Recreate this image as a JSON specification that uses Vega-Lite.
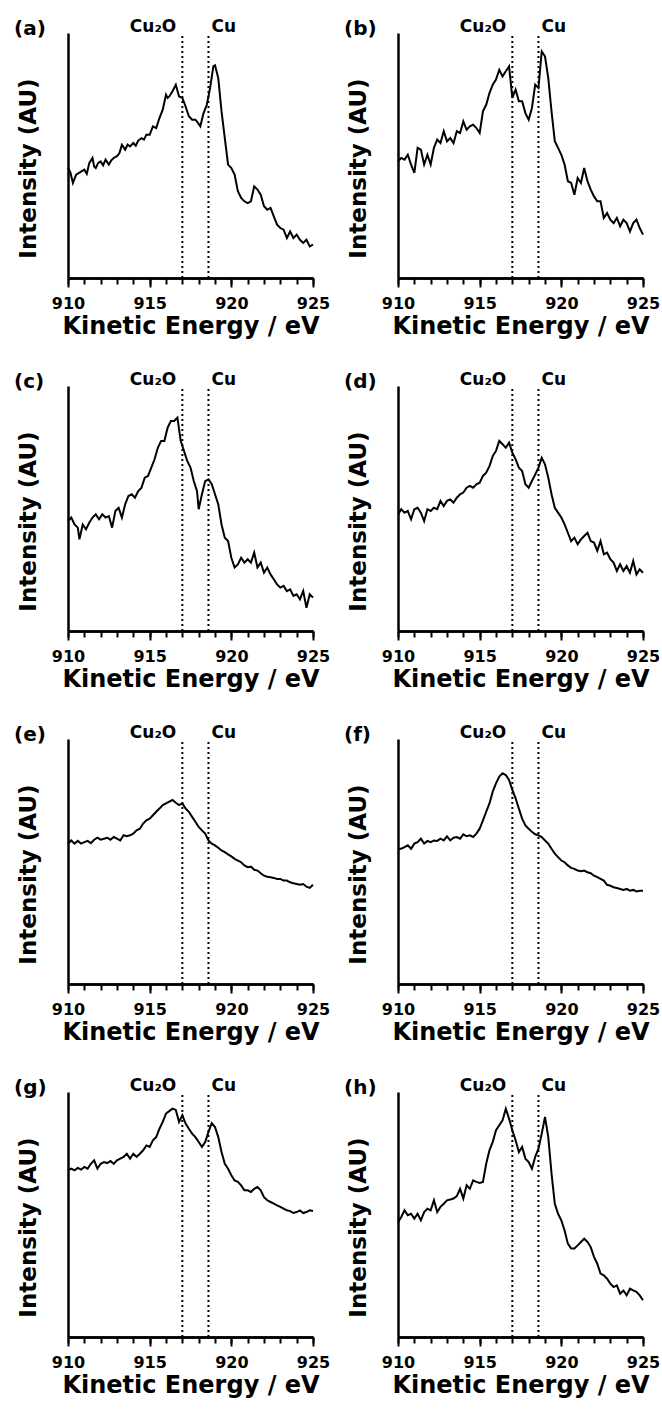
{
"$schema": "https://vega.github.io/schema/vega-lite/v6.json",
"background": "white",
"padding": {"left": 14, "top": 18, "right": 4, "bottom": 4},
"columns": 2,
"spacing": {"row": 33, "column": 14},
"config": {
  "font": "DejaVu Sans",
  "view": {"stroke": null},
  "title": {"anchor": "start", "frame": "bounds", "fontSize": 20, "fontWeight": "bold", "font": "DejaVu Sans", "baseline": "alphabetic", "offset": -21, "dx": -3, "color": "black"},
  "axis": {"grid": false, "domainColor": "black", "domainWidth": 2.5, "tickColor": "black", "tickWidth": 2, "labelColor": "black", "titleColor": "black", "labelFont": "DejaVu Sans", "titleFont": "DejaVu Sans", "labelFontWeight": "bold", "titleFontWeight": "bold"},
  "axisX": {"labelFontSize": 16, "labelPadding": 8, "titleFontSize": 24, "titlePadding": 3, "labelFlush": false},
  "axisY": {"ticks": false, "labels": false, "titleFontSize": 23, "titlePadding": 28, "titleY": 135}
},
"datasets": {
"markers": [{"energy": 917.0, "label": "Cu₂O"}, {"energy": 918.6, "label": "Cu"}],
"a": [
{"energy":910.0,"intensity":0.449},{"energy":910.15,"intensity":0.43},{"energy":910.3,"intensity":0.388},{"energy":910.5,"intensity":0.422},{"energy":910.7,"intensity":0.43},{"energy":911.0,"intensity":0.442},{"energy":911.15,"intensity":0.425},{"energy":911.3,"intensity":0.469},{"energy":911.5,"intensity":0.49},{"energy":911.6,"intensity":0.455},{"energy":911.7,"intensity":0.449},{"energy":911.85,"intensity":0.47},{"energy":912.0,"intensity":0.476},{"energy":912.15,"intensity":0.46},{"energy":912.3,"intensity":0.483},{"energy":912.5,"intensity":0.463},{"energy":912.65,"intensity":0.48},{"energy":912.8,"intensity":0.49},{"energy":913.0,"intensity":0.497},{"energy":913.15,"intensity":0.51},{"energy":913.3,"intensity":0.544},{"energy":913.5,"intensity":0.524},{"energy":913.65,"intensity":0.545},{"energy":913.8,"intensity":0.537},{"energy":914.0,"intensity":0.551},{"energy":914.15,"intensity":0.54},{"energy":914.3,"intensity":0.561},{"energy":914.5,"intensity":0.571},{"energy":914.65,"intensity":0.565},{"energy":914.8,"intensity":0.585},{"energy":915.0,"intensity":0.585},{"energy":915.2,"intensity":0.619},{"energy":915.4,"intensity":0.612},{"energy":915.6,"intensity":0.653},{"energy":915.8,"intensity":0.687},{"energy":916.0,"intensity":0.748},{"energy":916.1,"intensity":0.735},{"energy":916.2,"intensity":0.741},{"energy":916.4,"intensity":0.762},{"energy":916.6,"intensity":0.789},{"energy":916.8,"intensity":0.741},{"energy":917.0,"intensity":0.735},{"energy":917.2,"intensity":0.70},{"energy":917.4,"intensity":0.66},{"energy":917.6,"intensity":0.646},{"energy":917.8,"intensity":0.646},{"energy":918.0,"intensity":0.629},{"energy":918.1,"intensity":0.619},{"energy":918.3,"intensity":0.673},{"energy":918.5,"intensity":0.707},{"energy":918.7,"intensity":0.776},{"energy":918.9,"intensity":0.864},{"energy":919.0,"intensity":0.868},{"energy":919.2,"intensity":0.816},{"energy":919.4,"intensity":0.68},{"energy":919.6,"intensity":0.571},{"energy":919.8,"intensity":0.463},{"energy":920.0,"intensity":0.449},{"energy":920.2,"intensity":0.422},{"energy":920.4,"intensity":0.354},{"energy":920.6,"intensity":0.327},{"energy":920.8,"intensity":0.313},{"energy":921.0,"intensity":0.306},{"energy":921.2,"intensity":0.313},{"energy":921.4,"intensity":0.374},{"energy":921.6,"intensity":0.361},{"energy":921.8,"intensity":0.34},{"energy":922.0,"intensity":0.293},{"energy":922.2,"intensity":0.279},{"energy":922.4,"intensity":0.286},{"energy":922.6,"intensity":0.252},{"energy":922.8,"intensity":0.218},{"energy":923.0,"intensity":0.204},{"energy":923.2,"intensity":0.197},{"energy":923.4,"intensity":0.163},{"energy":923.6,"intensity":0.19},{"energy":923.8,"intensity":0.163},{"energy":924.0,"intensity":0.177},{"energy":924.2,"intensity":0.156},{"energy":924.4,"intensity":0.143},{"energy":924.6,"intensity":0.156},{"energy":924.8,"intensity":0.129},{"energy":925.0,"intensity":0.136}
],
"b": [
{"energy":910.0,"intensity":0.476},{"energy":910.2,"intensity":0.49},{"energy":910.4,"intensity":0.483},{"energy":910.6,"intensity":0.503},{"energy":910.8,"intensity":0.463},{"energy":911.0,"intensity":0.429},{"energy":911.2,"intensity":0.531},{"energy":911.4,"intensity":0.524},{"energy":911.6,"intensity":0.463},{"energy":911.8,"intensity":0.503},{"energy":912.0,"intensity":0.463},{"energy":912.2,"intensity":0.531},{"energy":912.4,"intensity":0.565},{"energy":912.6,"intensity":0.551},{"energy":912.8,"intensity":0.599},{"energy":913.0,"intensity":0.558},{"energy":913.2,"intensity":0.571},{"energy":913.4,"intensity":0.551},{"energy":913.6,"intensity":0.599},{"energy":913.8,"intensity":0.592},{"energy":914.0,"intensity":0.639},{"energy":914.2,"intensity":0.605},{"energy":914.4,"intensity":0.619},{"energy":914.6,"intensity":0.626},{"energy":914.8,"intensity":0.612},{"energy":915.0,"intensity":0.592},{"energy":915.2,"intensity":0.68},{"energy":915.4,"intensity":0.707},{"energy":915.6,"intensity":0.755},{"energy":915.8,"intensity":0.789},{"energy":916.0,"intensity":0.81},{"energy":916.2,"intensity":0.85},{"energy":916.4,"intensity":0.823},{"energy":916.6,"intensity":0.844},{"energy":916.8,"intensity":0.864},{"energy":917.0,"intensity":0.735},{"energy":917.2,"intensity":0.769},{"energy":917.4,"intensity":0.721},{"energy":917.6,"intensity":0.721},{"energy":917.8,"intensity":0.673},{"energy":918.0,"intensity":0.646},{"energy":918.2,"intensity":0.694},{"energy":918.4,"intensity":0.789},{"energy":918.6,"intensity":0.776},{"energy":918.8,"intensity":0.925},{"energy":919.0,"intensity":0.905},{"energy":919.2,"intensity":0.816},{"energy":919.4,"intensity":0.68},{"energy":919.6,"intensity":0.558},{"energy":919.8,"intensity":0.531},{"energy":920.0,"intensity":0.503},{"energy":920.2,"intensity":0.463},{"energy":920.4,"intensity":0.395},{"energy":920.6,"intensity":0.388},{"energy":920.8,"intensity":0.34},{"energy":921.0,"intensity":0.408},{"energy":921.2,"intensity":0.388},{"energy":921.4,"intensity":0.449},{"energy":921.6,"intensity":0.395},{"energy":921.8,"intensity":0.361},{"energy":922.0,"intensity":0.333},{"energy":922.2,"intensity":0.313},{"energy":922.4,"intensity":0.313},{"energy":922.6,"intensity":0.245},{"energy":922.8,"intensity":0.265},{"energy":923.0,"intensity":0.238},{"energy":923.2,"intensity":0.224},{"energy":923.4,"intensity":0.245},{"energy":923.6,"intensity":0.211},{"energy":923.8,"intensity":0.238},{"energy":924.0,"intensity":0.224},{"energy":924.2,"intensity":0.19},{"energy":924.4,"intensity":0.224},{"energy":924.6,"intensity":0.238},{"energy":924.8,"intensity":0.204},{"energy":925.0,"intensity":0.177}
],
"c": [
{"energy":910.0,"intensity":0.449},{"energy":910.2,"intensity":0.463},{"energy":910.4,"intensity":0.435},{"energy":910.6,"intensity":0.422},{"energy":910.7,"intensity":0.374},{"energy":910.9,"intensity":0.435},{"energy":911.1,"intensity":0.415},{"energy":911.3,"intensity":0.442},{"energy":911.5,"intensity":0.463},{"energy":911.7,"intensity":0.476},{"energy":911.9,"intensity":0.456},{"energy":912.1,"intensity":0.476},{"energy":912.3,"intensity":0.463},{"energy":912.5,"intensity":0.469},{"energy":912.7,"intensity":0.422},{"energy":912.9,"intensity":0.49},{"energy":913.1,"intensity":0.503},{"energy":913.3,"intensity":0.463},{"energy":913.5,"intensity":0.517},{"energy":913.7,"intensity":0.551},{"energy":913.9,"intensity":0.558},{"energy":914.1,"intensity":0.544},{"energy":914.3,"intensity":0.571},{"energy":914.5,"intensity":0.585},{"energy":914.7,"intensity":0.626},{"energy":914.9,"intensity":0.633},{"energy":915.1,"intensity":0.667},{"energy":915.3,"intensity":0.701},{"energy":915.5,"intensity":0.748},{"energy":915.7,"intensity":0.776},{"energy":915.9,"intensity":0.776},{"energy":916.1,"intensity":0.83},{"energy":916.3,"intensity":0.857},{"energy":916.5,"intensity":0.857},{"energy":916.7,"intensity":0.871},{"energy":916.9,"intensity":0.776},{"energy":917.1,"intensity":0.735},{"energy":917.3,"intensity":0.694},{"energy":917.5,"intensity":0.667},{"energy":917.7,"intensity":0.612},{"energy":917.9,"intensity":0.571},{"energy":918.0,"intensity":0.497},{"energy":918.2,"intensity":0.558},{"energy":918.4,"intensity":0.612},{"energy":918.6,"intensity":0.619},{"energy":918.8,"intensity":0.599},{"energy":919.0,"intensity":0.558},{"energy":919.2,"intensity":0.517},{"energy":919.4,"intensity":0.435},{"energy":919.6,"intensity":0.381},{"energy":919.8,"intensity":0.367},{"energy":920.0,"intensity":0.299},{"energy":920.2,"intensity":0.259},{"energy":920.4,"intensity":0.272},{"energy":920.6,"intensity":0.299},{"energy":920.8,"intensity":0.279},{"energy":921.0,"intensity":0.293},{"energy":921.2,"intensity":0.279},{"energy":921.4,"intensity":0.32},{"energy":921.6,"intensity":0.259},{"energy":921.8,"intensity":0.279},{"energy":922.0,"intensity":0.238},{"energy":922.2,"intensity":0.259},{"energy":922.4,"intensity":0.231},{"energy":922.6,"intensity":0.211},{"energy":922.8,"intensity":0.19},{"energy":923.0,"intensity":0.177},{"energy":923.2,"intensity":0.184},{"energy":923.4,"intensity":0.163},{"energy":923.6,"intensity":0.17},{"energy":923.8,"intensity":0.143},{"energy":924.0,"intensity":0.15},{"energy":924.2,"intensity":0.129},{"energy":924.4,"intensity":0.163},{"energy":924.6,"intensity":0.095},{"energy":924.8,"intensity":0.15},{"energy":925.0,"intensity":0.136}
],
"d": [
{"energy":910.0,"intensity":0.476},{"energy":910.2,"intensity":0.497},{"energy":910.4,"intensity":0.483},{"energy":910.6,"intensity":0.49},{"energy":910.8,"intensity":0.456},{"energy":911.0,"intensity":0.497},{"energy":911.2,"intensity":0.503},{"energy":911.4,"intensity":0.483},{"energy":911.6,"intensity":0.449},{"energy":911.8,"intensity":0.497},{"energy":912.0,"intensity":0.49},{"energy":912.2,"intensity":0.503},{"energy":912.4,"intensity":0.497},{"energy":912.6,"intensity":0.531},{"energy":912.8,"intensity":0.51},{"energy":913.0,"intensity":0.531},{"energy":913.2,"intensity":0.537},{"energy":913.4,"intensity":0.524},{"energy":913.6,"intensity":0.544},{"energy":913.8,"intensity":0.558},{"energy":914.0,"intensity":0.565},{"energy":914.2,"intensity":0.585},{"energy":914.4,"intensity":0.592},{"energy":914.6,"intensity":0.585},{"energy":914.8,"intensity":0.599},{"energy":915.0,"intensity":0.605},{"energy":915.2,"intensity":0.633},{"energy":915.4,"intensity":0.646},{"energy":915.6,"intensity":0.673},{"energy":915.8,"intensity":0.714},{"energy":916.0,"intensity":0.735},{"energy":916.2,"intensity":0.776},{"energy":916.4,"intensity":0.762},{"energy":916.6,"intensity":0.748},{"energy":916.8,"intensity":0.769},{"energy":917.0,"intensity":0.728},{"energy":917.2,"intensity":0.701},{"energy":917.4,"intensity":0.667},{"energy":917.6,"intensity":0.653},{"energy":917.8,"intensity":0.599},{"energy":918.0,"intensity":0.585},{"energy":918.2,"intensity":0.612},{"energy":918.4,"intensity":0.639},{"energy":918.6,"intensity":0.667},{"energy":918.8,"intensity":0.707},{"energy":919.0,"intensity":0.68},{"energy":919.2,"intensity":0.626},{"energy":919.4,"intensity":0.558},{"energy":919.6,"intensity":0.503},{"energy":919.8,"intensity":0.483},{"energy":920.0,"intensity":0.463},{"energy":920.2,"intensity":0.435},{"energy":920.4,"intensity":0.401},{"energy":920.6,"intensity":0.367},{"energy":920.8,"intensity":0.381},{"energy":921.0,"intensity":0.354},{"energy":921.2,"intensity":0.374},{"energy":921.4,"intensity":0.388},{"energy":921.6,"intensity":0.401},{"energy":921.8,"intensity":0.367},{"energy":922.0,"intensity":0.361},{"energy":922.2,"intensity":0.327},{"energy":922.4,"intensity":0.367},{"energy":922.6,"intensity":0.313},{"energy":922.8,"intensity":0.32},{"energy":923.0,"intensity":0.293},{"energy":923.2,"intensity":0.279},{"energy":923.4,"intensity":0.245},{"energy":923.6,"intensity":0.272},{"energy":923.8,"intensity":0.245},{"energy":924.0,"intensity":0.265},{"energy":924.2,"intensity":0.238},{"energy":924.4,"intensity":0.286},{"energy":924.6,"intensity":0.231},{"energy":924.8,"intensity":0.252},{"energy":925.0,"intensity":0.238}
],
"e": [
{"energy":910.0,"intensity":0.573},{"energy":910.2,"intensity":0.586},{"energy":910.4,"intensity":0.573},{"energy":910.6,"intensity":0.584},{"energy":910.8,"intensity":0.573},{"energy":911.0,"intensity":0.579},{"energy":911.2,"intensity":0.584},{"energy":911.4,"intensity":0.575},{"energy":911.6,"intensity":0.589},{"energy":911.8,"intensity":0.597},{"energy":912.0,"intensity":0.589},{"energy":912.2,"intensity":0.593},{"energy":912.4,"intensity":0.597},{"energy":912.6,"intensity":0.589},{"energy":912.8,"intensity":0.6},{"energy":913.0,"intensity":0.593},{"energy":913.2,"intensity":0.586},{"energy":913.4,"intensity":0.607},{"energy":913.6,"intensity":0.603},{"energy":913.8,"intensity":0.607},{"energy":914.0,"intensity":0.614},{"energy":914.2,"intensity":0.627},{"energy":914.4,"intensity":0.634},{"energy":914.6,"intensity":0.655},{"energy":914.8,"intensity":0.668},{"energy":915.0,"intensity":0.675},{"energy":915.2,"intensity":0.689},{"energy":915.4,"intensity":0.703},{"energy":915.6,"intensity":0.716},{"energy":915.8,"intensity":0.73},{"energy":916.0,"intensity":0.737},{"energy":916.2,"intensity":0.744},{"energy":916.4,"intensity":0.751},{"energy":916.6,"intensity":0.74},{"energy":916.8,"intensity":0.73},{"energy":917.0,"intensity":0.737},{"energy":917.2,"intensity":0.716},{"energy":917.4,"intensity":0.703},{"energy":917.6,"intensity":0.682},{"energy":917.8,"intensity":0.662},{"energy":918.0,"intensity":0.641},{"energy":918.2,"intensity":0.627},{"energy":918.4,"intensity":0.614},{"energy":918.6,"intensity":0.586},{"energy":918.8,"intensity":0.573},{"energy":919.0,"intensity":0.566},{"energy":919.2,"intensity":0.556},{"energy":919.4,"intensity":0.545},{"energy":919.6,"intensity":0.538},{"energy":919.8,"intensity":0.529},{"energy":920.0,"intensity":0.521},{"energy":920.2,"intensity":0.511},{"energy":920.4,"intensity":0.504},{"energy":920.6,"intensity":0.497},{"energy":920.8,"intensity":0.484},{"energy":921.0,"intensity":0.477},{"energy":921.2,"intensity":0.479},{"energy":921.4,"intensity":0.466},{"energy":921.6,"intensity":0.463},{"energy":921.8,"intensity":0.452},{"energy":922.0,"intensity":0.442},{"energy":922.2,"intensity":0.438},{"energy":922.4,"intensity":0.436},{"energy":922.6,"intensity":0.433},{"energy":922.8,"intensity":0.429},{"energy":923.0,"intensity":0.429},{"energy":923.2,"intensity":0.422},{"energy":923.4,"intensity":0.422},{"energy":923.6,"intensity":0.415},{"energy":923.8,"intensity":0.411},{"energy":924.0,"intensity":0.408},{"energy":924.2,"intensity":0.405},{"energy":924.4,"intensity":0.408},{"energy":924.6,"intensity":0.397},{"energy":924.8,"intensity":0.392},{"energy":925.0,"intensity":0.405}
],
"f": [
{"energy":910.0,"intensity":0.552},{"energy":910.2,"intensity":0.552},{"energy":910.4,"intensity":0.559},{"energy":910.6,"intensity":0.566},{"energy":910.8,"intensity":0.552},{"energy":911.0,"intensity":0.573},{"energy":911.2,"intensity":0.579},{"energy":911.4,"intensity":0.593},{"energy":911.6,"intensity":0.573},{"energy":911.8,"intensity":0.584},{"energy":912.0,"intensity":0.579},{"energy":912.2,"intensity":0.586},{"energy":912.4,"intensity":0.584},{"energy":912.6,"intensity":0.593},{"energy":912.8,"intensity":0.586},{"energy":913.0,"intensity":0.603},{"energy":913.2,"intensity":0.586},{"energy":913.4,"intensity":0.597},{"energy":913.6,"intensity":0.6},{"energy":913.8,"intensity":0.593},{"energy":914.0,"intensity":0.611},{"energy":914.2,"intensity":0.603},{"energy":914.4,"intensity":0.607},{"energy":914.6,"intensity":0.6},{"energy":914.8,"intensity":0.614},{"energy":915.0,"intensity":0.634},{"energy":915.2,"intensity":0.668},{"energy":915.4,"intensity":0.703},{"energy":915.6,"intensity":0.737},{"energy":915.8,"intensity":0.785},{"energy":916.0,"intensity":0.819},{"energy":916.2,"intensity":0.847},{"energy":916.4,"intensity":0.86},{"energy":916.6,"intensity":0.853},{"energy":916.8,"intensity":0.833},{"energy":917.0,"intensity":0.792},{"energy":917.2,"intensity":0.758},{"energy":917.4,"intensity":0.716},{"energy":917.6,"intensity":0.675},{"energy":917.8,"intensity":0.647},{"energy":918.0,"intensity":0.634},{"energy":918.2,"intensity":0.621},{"energy":918.4,"intensity":0.611},{"energy":918.6,"intensity":0.607},{"energy":918.8,"intensity":0.6},{"energy":919.0,"intensity":0.586},{"energy":919.2,"intensity":0.573},{"energy":919.4,"intensity":0.552},{"energy":919.6,"intensity":0.532},{"energy":919.8,"intensity":0.518},{"energy":920.0,"intensity":0.504},{"energy":920.2,"intensity":0.497},{"energy":920.4,"intensity":0.484},{"energy":920.6,"intensity":0.474},{"energy":920.8,"intensity":0.47},{"energy":921.0,"intensity":0.463},{"energy":921.2,"intensity":0.46},{"energy":921.4,"intensity":0.463},{"energy":921.6,"intensity":0.456},{"energy":921.8,"intensity":0.452},{"energy":922.0,"intensity":0.442},{"energy":922.2,"intensity":0.436},{"energy":922.4,"intensity":0.429},{"energy":922.6,"intensity":0.422},{"energy":922.8,"intensity":0.405},{"energy":923.0,"intensity":0.401},{"energy":923.2,"intensity":0.395},{"energy":923.4,"intensity":0.392},{"energy":923.6,"intensity":0.388},{"energy":923.8,"intensity":0.384},{"energy":924.0,"intensity":0.388},{"energy":924.2,"intensity":0.381},{"energy":924.4,"intensity":0.384},{"energy":924.6,"intensity":0.378},{"energy":924.8,"intensity":0.381},{"energy":925.0,"intensity":0.381}
],
"g": [
{"energy":910.0,"intensity":0.68},{"energy":910.2,"intensity":0.687},{"energy":910.4,"intensity":0.68},{"energy":910.6,"intensity":0.69},{"energy":910.8,"intensity":0.683},{"energy":911.0,"intensity":0.694},{"energy":911.2,"intensity":0.687},{"energy":911.4,"intensity":0.707},{"energy":911.6,"intensity":0.721},{"energy":911.8,"intensity":0.687},{"energy":912.0,"intensity":0.707},{"energy":912.2,"intensity":0.714},{"energy":912.4,"intensity":0.71},{"energy":912.6,"intensity":0.718},{"energy":912.8,"intensity":0.707},{"energy":913.0,"intensity":0.721},{"energy":913.2,"intensity":0.728},{"energy":913.4,"intensity":0.735},{"energy":913.6,"intensity":0.748},{"energy":913.8,"intensity":0.728},{"energy":914.0,"intensity":0.748},{"energy":914.2,"intensity":0.735},{"energy":914.4,"intensity":0.748},{"energy":914.6,"intensity":0.762},{"energy":914.8,"intensity":0.782},{"energy":915.0,"intensity":0.776},{"energy":915.2,"intensity":0.803},{"energy":915.4,"intensity":0.816},{"energy":915.6,"intensity":0.85},{"energy":915.8,"intensity":0.878},{"energy":916.0,"intensity":0.912},{"energy":916.2,"intensity":0.922},{"energy":916.4,"intensity":0.932},{"energy":916.6,"intensity":0.927},{"energy":916.8,"intensity":0.878},{"energy":917.0,"intensity":0.905},{"energy":917.2,"intensity":0.871},{"energy":917.4,"intensity":0.85},{"energy":917.6,"intensity":0.83},{"energy":917.8,"intensity":0.816},{"energy":918.0,"intensity":0.796},{"energy":918.2,"intensity":0.776},{"energy":918.4,"intensity":0.796},{"energy":918.6,"intensity":0.837},{"energy":918.8,"intensity":0.873},{"energy":919.0,"intensity":0.857},{"energy":919.2,"intensity":0.816},{"energy":919.4,"intensity":0.755},{"energy":919.6,"intensity":0.707},{"energy":919.8,"intensity":0.687},{"energy":920.0,"intensity":0.66},{"energy":920.2,"intensity":0.639},{"energy":920.4,"intensity":0.633},{"energy":920.6,"intensity":0.619},{"energy":920.8,"intensity":0.599},{"energy":921.0,"intensity":0.599},{"energy":921.2,"intensity":0.592},{"energy":921.4,"intensity":0.605},{"energy":921.6,"intensity":0.612},{"energy":921.8,"intensity":0.599},{"energy":922.0,"intensity":0.571},{"energy":922.2,"intensity":0.558},{"energy":922.4,"intensity":0.551},{"energy":922.6,"intensity":0.544},{"energy":922.8,"intensity":0.537},{"energy":923.0,"intensity":0.531},{"energy":923.2,"intensity":0.524},{"energy":923.4,"intensity":0.517},{"energy":923.6,"intensity":0.514},{"energy":923.8,"intensity":0.506},{"energy":924.0,"intensity":0.51},{"energy":924.2,"intensity":0.517},{"energy":924.4,"intensity":0.506},{"energy":924.6,"intensity":0.51},{"energy":924.8,"intensity":0.517},{"energy":925.0,"intensity":0.514}
],
"h": [
{"energy":910.0,"intensity":0.469},{"energy":910.2,"intensity":0.49},{"energy":910.4,"intensity":0.517},{"energy":910.6,"intensity":0.497},{"energy":910.8,"intensity":0.503},{"energy":911.0,"intensity":0.483},{"energy":911.2,"intensity":0.503},{"energy":911.4,"intensity":0.476},{"energy":911.6,"intensity":0.51},{"energy":911.8,"intensity":0.524},{"energy":912.0,"intensity":0.517},{"energy":912.2,"intensity":0.558},{"energy":912.4,"intensity":0.51},{"energy":912.6,"intensity":0.531},{"energy":912.8,"intensity":0.544},{"energy":913.0,"intensity":0.558},{"energy":913.2,"intensity":0.561},{"energy":913.4,"intensity":0.565},{"energy":913.6,"intensity":0.575},{"energy":913.8,"intensity":0.605},{"energy":914.0,"intensity":0.565},{"energy":914.2,"intensity":0.619},{"energy":914.4,"intensity":0.605},{"energy":914.6,"intensity":0.639},{"energy":914.8,"intensity":0.633},{"energy":915.0,"intensity":0.629},{"energy":915.2,"intensity":0.633},{"energy":915.4,"intensity":0.707},{"energy":915.6,"intensity":0.762},{"energy":915.8,"intensity":0.796},{"energy":916.0,"intensity":0.844},{"energy":916.2,"intensity":0.864},{"energy":916.4,"intensity":0.884},{"energy":916.6,"intensity":0.932},{"energy":916.8,"intensity":0.891},{"energy":917.0,"intensity":0.844},{"energy":917.2,"intensity":0.803},{"energy":917.4,"intensity":0.755},{"energy":917.6,"intensity":0.776},{"energy":917.8,"intensity":0.728},{"energy":918.0,"intensity":0.714},{"energy":918.2,"intensity":0.687},{"energy":918.4,"intensity":0.735},{"energy":918.6,"intensity":0.769},{"energy":918.8,"intensity":0.83},{"energy":919.0,"intensity":0.898},{"energy":919.2,"intensity":0.816},{"energy":919.4,"intensity":0.667},{"energy":919.6,"intensity":0.544},{"energy":919.8,"intensity":0.503},{"energy":920.0,"intensity":0.476},{"energy":920.2,"intensity":0.435},{"energy":920.4,"intensity":0.381},{"energy":920.6,"intensity":0.361},{"energy":920.8,"intensity":0.361},{"energy":921.0,"intensity":0.374},{"energy":921.2,"intensity":0.388},{"energy":921.4,"intensity":0.401},{"energy":921.6,"intensity":0.388},{"energy":921.8,"intensity":0.367},{"energy":922.0,"intensity":0.327},{"energy":922.2,"intensity":0.299},{"energy":922.4,"intensity":0.259},{"energy":922.6,"intensity":0.252},{"energy":922.8,"intensity":0.238},{"energy":923.0,"intensity":0.218},{"energy":923.2,"intensity":0.204},{"energy":923.4,"intensity":0.211},{"energy":923.6,"intensity":0.177},{"energy":923.8,"intensity":0.19},{"energy":924.0,"intensity":0.17},{"energy":924.2,"intensity":0.197},{"energy":924.4,"intensity":0.19},{"energy":924.6,"intensity":0.184},{"energy":924.8,"intensity":0.17},{"energy":925.0,"intensity":0.15}
]
},
"concat": [
{"title": {"text": "(a)"}, "width": 245, "height": 245, "resolve": {"axis": {"x": "independent"}}, "layer": [
 {"data": {"name": "a"}, "mark": {"type": "line", "color": "black", "strokeWidth": 2}, "encoding": {"x": {"field": "energy", "type": "quantitative", "scale": {"domain": [910, 925], "nice": false}, "axis": {"orient": "bottom", "values": [910,911,912,913,914,915,916,917,918,919,920,921,922,923,924,925], "labels": false, "tickSize": 6, "title": null}}, "y": {"field": "intensity", "type": "quantitative", "scale": {"domain": [0, 1], "nice": false}, "axis": {"title": "Intensity (AU)"}}}},
 {"data": {"name": "markers"}, "mark": {"type": "rule", "color": "black", "strokeWidth": 2, "strokeDash": [2, 3]}, "encoding": {"x": {"field": "energy", "type": "quantitative", "scale": {"domain": [910, 925], "nice": false}, "axis": {"orient": "bottom", "values": [910, 915, 920, 925], "tickSize": 9, "format": "d", "title": "Kinetic Energy / eV"}}, "y": {"datum": 0, "scale": {"domain": [0, 1]}, "axis": {"title": "Intensity (AU)"}}, "y2": {"datum": 1}}},
 {"data": {"name": "markers"}, "transform": [{"filter": "datum.label == 'Cu₂O'"}], "mark": {"type": "text", "align": "right", "baseline": "alphabetic", "dx": -6, "dy": -1, "fontSize": 17, "fontWeight": "bold", "color": "black"}, "encoding": {"x": {"field": "energy", "type": "quantitative", "axis": null}, "y": {"datum": 1, "axis": {"title": "Intensity (AU)"}}, "text": {"field": "label"}}},
 {"data": {"name": "markers"}, "transform": [{"filter": "datum.label == 'Cu'"}], "mark": {"type": "text", "align": "left", "baseline": "alphabetic", "dx": 3, "dy": -1, "fontSize": 17, "fontWeight": "bold", "color": "black"}, "encoding": {"x": {"field": "energy", "type": "quantitative", "axis": null}, "y": {"datum": 1, "axis": {"title": "Intensity (AU)"}}, "text": {"field": "label"}}}
]},
{"title": {"text": "(b)"}, "width": 245, "height": 245, "resolve": {"axis": {"x": "independent"}}, "layer": [
 {"data": {"name": "b"}, "mark": {"type": "line", "color": "black", "strokeWidth": 2}, "encoding": {"x": {"field": "energy", "type": "quantitative", "scale": {"domain": [910, 925], "nice": false}, "axis": {"orient": "bottom", "values": [910,911,912,913,914,915,916,917,918,919,920,921,922,923,924,925], "labels": false, "tickSize": 6, "title": null}}, "y": {"field": "intensity", "type": "quantitative", "scale": {"domain": [0, 1], "nice": false}, "axis": {"title": "Intensity (AU)"}}}},
 {"data": {"name": "markers"}, "mark": {"type": "rule", "color": "black", "strokeWidth": 2, "strokeDash": [2, 3]}, "encoding": {"x": {"field": "energy", "type": "quantitative", "scale": {"domain": [910, 925], "nice": false}, "axis": {"orient": "bottom", "values": [910, 915, 920, 925], "tickSize": 9, "format": "d", "title": "Kinetic Energy / eV"}}, "y": {"datum": 0, "scale": {"domain": [0, 1]}, "axis": {"title": "Intensity (AU)"}}, "y2": {"datum": 1}}},
 {"data": {"name": "markers"}, "transform": [{"filter": "datum.label == 'Cu₂O'"}], "mark": {"type": "text", "align": "right", "baseline": "alphabetic", "dx": -6, "dy": -1, "fontSize": 17, "fontWeight": "bold", "color": "black"}, "encoding": {"x": {"field": "energy", "type": "quantitative", "axis": null}, "y": {"datum": 1, "axis": {"title": "Intensity (AU)"}}, "text": {"field": "label"}}},
 {"data": {"name": "markers"}, "transform": [{"filter": "datum.label == 'Cu'"}], "mark": {"type": "text", "align": "left", "baseline": "alphabetic", "dx": 3, "dy": -1, "fontSize": 17, "fontWeight": "bold", "color": "black"}, "encoding": {"x": {"field": "energy", "type": "quantitative", "axis": null}, "y": {"datum": 1, "axis": {"title": "Intensity (AU)"}}, "text": {"field": "label"}}}
]},
{"title": {"text": "(c)"}, "width": 245, "height": 245, "resolve": {"axis": {"x": "independent"}}, "layer": [
 {"data": {"name": "c"}, "mark": {"type": "line", "color": "black", "strokeWidth": 2}, "encoding": {"x": {"field": "energy", "type": "quantitative", "scale": {"domain": [910, 925], "nice": false}, "axis": {"orient": "bottom", "values": [910,911,912,913,914,915,916,917,918,919,920,921,922,923,924,925], "labels": false, "tickSize": 6, "title": null}}, "y": {"field": "intensity", "type": "quantitative", "scale": {"domain": [0, 1], "nice": false}, "axis": {"title": "Intensity (AU)"}}}},
 {"data": {"name": "markers"}, "mark": {"type": "rule", "color": "black", "strokeWidth": 2, "strokeDash": [2, 3]}, "encoding": {"x": {"field": "energy", "type": "quantitative", "scale": {"domain": [910, 925], "nice": false}, "axis": {"orient": "bottom", "values": [910, 915, 920, 925], "tickSize": 9, "format": "d", "title": "Kinetic Energy / eV"}}, "y": {"datum": 0, "scale": {"domain": [0, 1]}, "axis": {"title": "Intensity (AU)"}}, "y2": {"datum": 1}}},
 {"data": {"name": "markers"}, "transform": [{"filter": "datum.label == 'Cu₂O'"}], "mark": {"type": "text", "align": "right", "baseline": "alphabetic", "dx": -6, "dy": -1, "fontSize": 17, "fontWeight": "bold", "color": "black"}, "encoding": {"x": {"field": "energy", "type": "quantitative", "axis": null}, "y": {"datum": 1, "axis": {"title": "Intensity (AU)"}}, "text": {"field": "label"}}},
 {"data": {"name": "markers"}, "transform": [{"filter": "datum.label == 'Cu'"}], "mark": {"type": "text", "align": "left", "baseline": "alphabetic", "dx": 3, "dy": -1, "fontSize": 17, "fontWeight": "bold", "color": "black"}, "encoding": {"x": {"field": "energy", "type": "quantitative", "axis": null}, "y": {"datum": 1, "axis": {"title": "Intensity (AU)"}}, "text": {"field": "label"}}}
]},
{"title": {"text": "(d)"}, "width": 245, "height": 245, "resolve": {"axis": {"x": "independent"}}, "layer": [
 {"data": {"name": "d"}, "mark": {"type": "line", "color": "black", "strokeWidth": 2}, "encoding": {"x": {"field": "energy", "type": "quantitative", "scale": {"domain": [910, 925], "nice": false}, "axis": {"orient": "bottom", "values": [910,911,912,913,914,915,916,917,918,919,920,921,922,923,924,925], "labels": false, "tickSize": 6, "title": null}}, "y": {"field": "intensity", "type": "quantitative", "scale": {"domain": [0, 1], "nice": false}, "axis": {"title": "Intensity (AU)"}}}},
 {"data": {"name": "markers"}, "mark": {"type": "rule", "color": "black", "strokeWidth": 2, "strokeDash": [2, 3]}, "encoding": {"x": {"field": "energy", "type": "quantitative", "scale": {"domain": [910, 925], "nice": false}, "axis": {"orient": "bottom", "values": [910, 915, 920, 925], "tickSize": 9, "format": "d", "title": "Kinetic Energy / eV"}}, "y": {"datum": 0, "scale": {"domain": [0, 1]}, "axis": {"title": "Intensity (AU)"}}, "y2": {"datum": 1}}},
 {"data": {"name": "markers"}, "transform": [{"filter": "datum.label == 'Cu₂O'"}], "mark": {"type": "text", "align": "right", "baseline": "alphabetic", "dx": -6, "dy": -1, "fontSize": 17, "fontWeight": "bold", "color": "black"}, "encoding": {"x": {"field": "energy", "type": "quantitative", "axis": null}, "y": {"datum": 1, "axis": {"title": "Intensity (AU)"}}, "text": {"field": "label"}}},
 {"data": {"name": "markers"}, "transform": [{"filter": "datum.label == 'Cu'"}], "mark": {"type": "text", "align": "left", "baseline": "alphabetic", "dx": 3, "dy": -1, "fontSize": 17, "fontWeight": "bold", "color": "black"}, "encoding": {"x": {"field": "energy", "type": "quantitative", "axis": null}, "y": {"datum": 1, "axis": {"title": "Intensity (AU)"}}, "text": {"field": "label"}}}
]},
{"title": {"text": "(e)"}, "width": 245, "height": 245, "resolve": {"axis": {"x": "independent"}}, "layer": [
 {"data": {"name": "e"}, "mark": {"type": "line", "color": "black", "strokeWidth": 2}, "encoding": {"x": {"field": "energy", "type": "quantitative", "scale": {"domain": [910, 925], "nice": false}, "axis": {"orient": "bottom", "values": [910,911,912,913,914,915,916,917,918,919,920,921,922,923,924,925], "labels": false, "tickSize": 6, "title": null}}, "y": {"field": "intensity", "type": "quantitative", "scale": {"domain": [0, 1], "nice": false}, "axis": {"title": "Intensity (AU)"}}}},
 {"data": {"name": "markers"}, "mark": {"type": "rule", "color": "black", "strokeWidth": 2, "strokeDash": [2, 3]}, "encoding": {"x": {"field": "energy", "type": "quantitative", "scale": {"domain": [910, 925], "nice": false}, "axis": {"orient": "bottom", "values": [910, 915, 920, 925], "tickSize": 9, "format": "d", "title": "Kinetic Energy / eV"}}, "y": {"datum": 0, "scale": {"domain": [0, 1]}, "axis": {"title": "Intensity (AU)"}}, "y2": {"datum": 1}}},
 {"data": {"name": "markers"}, "transform": [{"filter": "datum.label == 'Cu₂O'"}], "mark": {"type": "text", "align": "right", "baseline": "alphabetic", "dx": -6, "dy": -1, "fontSize": 17, "fontWeight": "bold", "color": "black"}, "encoding": {"x": {"field": "energy", "type": "quantitative", "axis": null}, "y": {"datum": 1, "axis": {"title": "Intensity (AU)"}}, "text": {"field": "label"}}},
 {"data": {"name": "markers"}, "transform": [{"filter": "datum.label == 'Cu'"}], "mark": {"type": "text", "align": "left", "baseline": "alphabetic", "dx": 3, "dy": -1, "fontSize": 17, "fontWeight": "bold", "color": "black"}, "encoding": {"x": {"field": "energy", "type": "quantitative", "axis": null}, "y": {"datum": 1, "axis": {"title": "Intensity (AU)"}}, "text": {"field": "label"}}}
]},
{"title": {"text": "(f)"}, "width": 245, "height": 245, "resolve": {"axis": {"x": "independent"}}, "layer": [
 {"data": {"name": "f"}, "mark": {"type": "line", "color": "black", "strokeWidth": 2}, "encoding": {"x": {"field": "energy", "type": "quantitative", "scale": {"domain": [910, 925], "nice": false}, "axis": {"orient": "bottom", "values": [910,911,912,913,914,915,916,917,918,919,920,921,922,923,924,925], "labels": false, "tickSize": 6, "title": null}}, "y": {"field": "intensity", "type": "quantitative", "scale": {"domain": [0, 1], "nice": false}, "axis": {"title": "Intensity (AU)"}}}},
 {"data": {"name": "markers"}, "mark": {"type": "rule", "color": "black", "strokeWidth": 2, "strokeDash": [2, 3]}, "encoding": {"x": {"field": "energy", "type": "quantitative", "scale": {"domain": [910, 925], "nice": false}, "axis": {"orient": "bottom", "values": [910, 915, 920, 925], "tickSize": 9, "format": "d", "title": "Kinetic Energy / eV"}}, "y": {"datum": 0, "scale": {"domain": [0, 1]}, "axis": {"title": "Intensity (AU)"}}, "y2": {"datum": 1}}},
 {"data": {"name": "markers"}, "transform": [{"filter": "datum.label == 'Cu₂O'"}], "mark": {"type": "text", "align": "right", "baseline": "alphabetic", "dx": -6, "dy": -1, "fontSize": 17, "fontWeight": "bold", "color": "black"}, "encoding": {"x": {"field": "energy", "type": "quantitative", "axis": null}, "y": {"datum": 1, "axis": {"title": "Intensity (AU)"}}, "text": {"field": "label"}}},
 {"data": {"name": "markers"}, "transform": [{"filter": "datum.label == 'Cu'"}], "mark": {"type": "text", "align": "left", "baseline": "alphabetic", "dx": 3, "dy": -1, "fontSize": 17, "fontWeight": "bold", "color": "black"}, "encoding": {"x": {"field": "energy", "type": "quantitative", "axis": null}, "y": {"datum": 1, "axis": {"title": "Intensity (AU)"}}, "text": {"field": "label"}}}
]},
{"title": {"text": "(g)"}, "width": 245, "height": 245, "resolve": {"axis": {"x": "independent"}}, "layer": [
 {"data": {"name": "g"}, "mark": {"type": "line", "color": "black", "strokeWidth": 2}, "encoding": {"x": {"field": "energy", "type": "quantitative", "scale": {"domain": [910, 925], "nice": false}, "axis": {"orient": "bottom", "values": [910,911,912,913,914,915,916,917,918,919,920,921,922,923,924,925], "labels": false, "tickSize": 6, "title": null}}, "y": {"field": "intensity", "type": "quantitative", "scale": {"domain": [0, 1], "nice": false}, "axis": {"title": "Intensity (AU)"}}}},
 {"data": {"name": "markers"}, "mark": {"type": "rule", "color": "black", "strokeWidth": 2, "strokeDash": [2, 3]}, "encoding": {"x": {"field": "energy", "type": "quantitative", "scale": {"domain": [910, 925], "nice": false}, "axis": {"orient": "bottom", "values": [910, 915, 920, 925], "tickSize": 9, "format": "d", "title": "Kinetic Energy / eV"}}, "y": {"datum": 0, "scale": {"domain": [0, 1]}, "axis": {"title": "Intensity (AU)"}}, "y2": {"datum": 1}}},
 {"data": {"name": "markers"}, "transform": [{"filter": "datum.label == 'Cu₂O'"}], "mark": {"type": "text", "align": "right", "baseline": "alphabetic", "dx": -6, "dy": -1, "fontSize": 17, "fontWeight": "bold", "color": "black"}, "encoding": {"x": {"field": "energy", "type": "quantitative", "axis": null}, "y": {"datum": 1, "axis": {"title": "Intensity (AU)"}}, "text": {"field": "label"}}},
 {"data": {"name": "markers"}, "transform": [{"filter": "datum.label == 'Cu'"}], "mark": {"type": "text", "align": "left", "baseline": "alphabetic", "dx": 3, "dy": -1, "fontSize": 17, "fontWeight": "bold", "color": "black"}, "encoding": {"x": {"field": "energy", "type": "quantitative", "axis": null}, "y": {"datum": 1, "axis": {"title": "Intensity (AU)"}}, "text": {"field": "label"}}}
]},
{"title": {"text": "(h)"}, "width": 245, "height": 245, "resolve": {"axis": {"x": "independent"}}, "layer": [
 {"data": {"name": "h"}, "mark": {"type": "line", "color": "black", "strokeWidth": 2}, "encoding": {"x": {"field": "energy", "type": "quantitative", "scale": {"domain": [910, 925], "nice": false}, "axis": {"orient": "bottom", "values": [910,911,912,913,914,915,916,917,918,919,920,921,922,923,924,925], "labels": false, "tickSize": 6, "title": null}}, "y": {"field": "intensity", "type": "quantitative", "scale": {"domain": [0, 1], "nice": false}, "axis": {"title": "Intensity (AU)"}}}},
 {"data": {"name": "markers"}, "mark": {"type": "rule", "color": "black", "strokeWidth": 2, "strokeDash": [2, 3]}, "encoding": {"x": {"field": "energy", "type": "quantitative", "scale": {"domain": [910, 925], "nice": false}, "axis": {"orient": "bottom", "values": [910, 915, 920, 925], "tickSize": 9, "format": "d", "title": "Kinetic Energy / eV"}}, "y": {"datum": 0, "scale": {"domain": [0, 1]}, "axis": {"title": "Intensity (AU)"}}, "y2": {"datum": 1}}},
 {"data": {"name": "markers"}, "transform": [{"filter": "datum.label == 'Cu₂O'"}], "mark": {"type": "text", "align": "right", "baseline": "alphabetic", "dx": -6, "dy": -1, "fontSize": 17, "fontWeight": "bold", "color": "black"}, "encoding": {"x": {"field": "energy", "type": "quantitative", "axis": null}, "y": {"datum": 1, "axis": {"title": "Intensity (AU)"}}, "text": {"field": "label"}}},
 {"data": {"name": "markers"}, "transform": [{"filter": "datum.label == 'Cu'"}], "mark": {"type": "text", "align": "left", "baseline": "alphabetic", "dx": 3, "dy": -1, "fontSize": 17, "fontWeight": "bold", "color": "black"}, "encoding": {"x": {"field": "energy", "type": "quantitative", "axis": null}, "y": {"datum": 1, "axis": {"title": "Intensity (AU)"}}, "text": {"field": "label"}}}
]}
]
}
